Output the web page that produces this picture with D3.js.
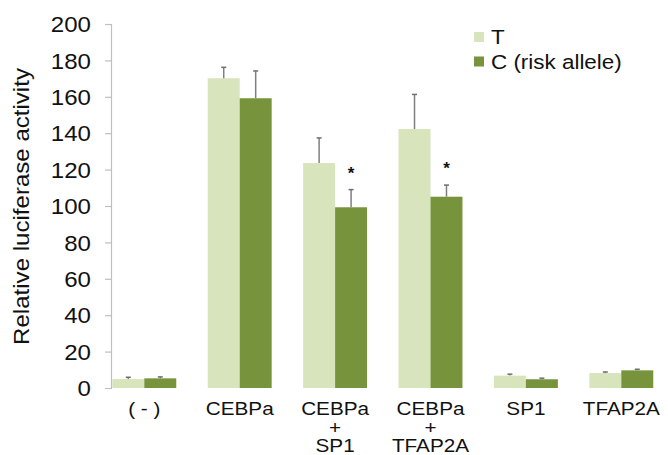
<!DOCTYPE html>
<html><head><meta charset="utf-8">
<script src="https://cdn.jsdelivr.net/npm/d3@7"></script>
<style>
html,body{margin:0;padding:0;background:#fff;}
text{font-family:"Liberation Sans",Arial,sans-serif;fill:#111;}
</style></head>
<body><svg id="c" width="668" height="455"></svg>
<script>
const categories = ["( - )", "CEBPa", "CEBPa\n+\nSP1", "CEBPa\n+\nTFAP2A", "SP1", "TFAP2A"];
const seriesNames = ["T", "C (risk allele)"];
const valuesT = [4.9, 170.2, 123.6, 142.3, 6.8, 8.2];
const errorsT = [1.0, 6.0, 13.8, 19.0, 0.8, 0.6];
const valuesC = [5.3, 159.2, 99.3, 105.1, 4.8, 9.7];
const errorsC = [0.8, 15.0, 9.7, 6.4, 0.6, 0.6];
const significant = [false, false, true, true, false, false];
const yTicks = [0, 20, 40, 60, 80, 100, 120, 140, 160, 180, 200];
const colors = ["#d8e4bc", "#77933c"];
const SX = 1.12;

const svg = d3.select("#c");
const y = d3.scaleLinear().domain([0, 200]).range([388, 24]);
const x = d3.scaleBand().domain(categories).range([96.6, 669]).paddingInner(0.33).paddingOuter(0.165);
const xs = d3.scaleBand().domain(seriesNames).range([0, x.bandwidth()]);
const axisX = 111;

// y axis
const yAxis = d3.axisLeft(y).tickValues(yTicks).tickSize(6).tickPadding(14);
const gy = svg.append("g").attr("transform", `translate(${axisX},0)`).call(yAxis);
gy.select(".domain").attr("stroke", "#bfbfbf").attr("stroke-width", 1.2);
gy.selectAll(".tick line").attr("stroke", "#bfbfbf").attr("stroke-width", 1.2);
gy.selectAll(".tick text").each(function(){
  const t = d3.select(this);
  const xx = +t.attr("x");
  t.attr("x", null).attr("dy", "0.36em")
   .attr("transform", `translate(${xx},0) scale(${SX},1)`)
   .style("font-size", "21.5px").style("font-family", '"Liberation Sans",Arial,sans-serif').attr("fill", "#111");
});

// y title
svg.append("text")
  .attr("transform", `translate(29,${(68+345)/2}) rotate(-90) scale(${SX},1)`)
  .attr("text-anchor", "middle")
  .style("font-size", "21.5px")
  .text("Relative luciferase activity");

// bars
const data = categories.map((c, i) => ({c, i, vals: [
  {s: seriesNames[0], v: valuesT[i], e: errorsT[i]},
  {s: seriesNames[1], v: valuesC[i], e: errorsC[i]}]}));

const groups = svg.append("g").selectAll("g").data(data).join("g")
  .attr("transform", d => `translate(${x(d.c)},0)`);

groups.selectAll("rect").data(d => d.vals).join("rect")
  .attr("x", d => xs(d.s)).attr("width", xs.bandwidth())
  .attr("y", d => y(d.v)).attr("height", d => y(0) - y(d.v))
  .attr("fill", (d, j) => colors[j]);

// error bars
groups.selectAll("line.err").data(d => d.vals).join("line").attr("class", "err")
  .attr("x1", d => xs(d.s) + xs.bandwidth()/2).attr("x2", d => xs(d.s) + xs.bandwidth()/2)
  .attr("y1", d => y(d.v)).attr("y2", d => y(d.v + d.e))
  .attr("stroke", "#7f7f7f").attr("stroke-width", 1.5);
groups.selectAll("line.cap").data(d => d.vals).join("line").attr("class", "cap")
  .attr("x1", d => xs(d.s) + xs.bandwidth()/2 - 2.5).attr("x2", d => xs(d.s) + xs.bandwidth()/2 + 2.5)
  .attr("y1", d => y(d.v + d.e)).attr("y2", d => y(d.v + d.e))
  .attr("stroke", "#6f6f6f").attr("stroke-width", 1.5);

// significance stars
groups.filter(d => significant[d.i]).append("text")
  .attr("x", xs(seriesNames[1]) + xs.bandwidth()/2)
  .attr("y", d => y(d.vals[1].v + d.vals[1].e) - 11)
  .attr("text-anchor", "middle")
  .style("font-size", "17px").style("font-weight", "bold").attr("fill", "#222")
  .text("*");

// x labels
const lab = svg.append("g").selectAll("g").data(categories).join("g")
  .attr("transform", c => `translate(${x(c) + x.bandwidth()/2},0)`);
lab.each(function(c){
  const lines = c.split("\n");
  const g = d3.select(this);
  lines.forEach((ln, k) => {
    g.append("text")
      .attr("transform", `translate(0,${415 + k*18.5}) scale(${SX},1)`)
      .attr("text-anchor", "middle")
      .style("font-size", "18.5px")
      .text(ln);
  });
});

// legend
const leg = svg.append("g").attr("transform", "translate(474,32)");
seriesNames.forEach((s, i) => {
  leg.append("rect").attr("x", 0).attr("y", i*24.5).attr("width", 10).attr("height", 10).attr("fill", colors[i]);
  leg.append("text").attr("transform", `translate(17,${i*24.5 + 12}) scale(1.15,1)`)
    .style("font-size", "19.5px").text(s);
});
</script></body></html>
